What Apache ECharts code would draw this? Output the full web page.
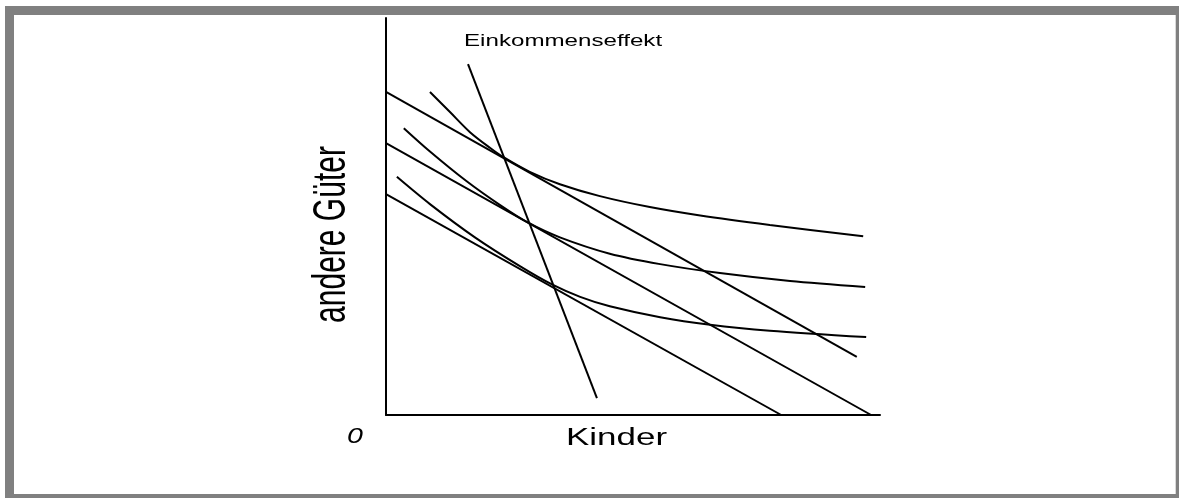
<!DOCTYPE html>
<html>
<head>
<meta charset="utf-8">
<script src="https://cdn.jsdelivr.net/npm/echarts@6/dist/echarts.min.js"></script>
<style>
    html, body { margin: 0; padding: 0; background: #fff; }
    #chart { width: 1179px; height: 498px; }
</style>
</head>
<body>
<div id="chart"></div>
<script>
// Achsenbereich
const xMax = 10
const yMax = 8

// Budgetgeraden [Kinder, andere Güter]
const budgetHigh = [[0, 6.51], [9.53, 1.17]]
const budgetMid = [[0, 5.48], [9.82, 0]]
const budgetLow = [[0, 4.45], [8.0, 0]]

// Indifferenzkurven
const indiffHigh = [
    [0.89, 6.51], [1.30, 6.10], [1.70, 5.70], [2.11, 5.38], [2.37, 5.20], [2.91, 4.90],
    [3.52, 4.65], [4.33, 4.41], [5.34, 4.19], [6.36, 4.02], [7.77, 3.83], [9.66, 3.60],
]
const indiffMid = [
    [0.36, 5.78], [0.89, 5.31], [1.62, 4.72], [2.31, 4.23], [2.87, 3.88], [3.52, 3.58],
    [4.53, 3.25], [5.55, 3.04], [6.76, 2.86], [8.18, 2.70], [9.70, 2.58],
]
const indiffLow = [
    [0.22, 4.80], [0.89, 4.25], [1.80, 3.58], [2.71, 3.00], [3.38, 2.62], [3.93, 2.38],
    [4.53, 2.19], [5.55, 1.97], [6.56, 1.82], [7.77, 1.70], [9.72, 1.57],
]

// Einkommenseffekt
const incomeEffect = [[1.66, 7.07], [4.27, 0.34]]

// Beschriftungen
const labelIncome = "Einkommenseffekt"
const labelX = "Kinder"
const labelY = "andere Güter"
const labelOrigin = "0"

const font = "'Liberation Sans', Arial, sans-serif"

function makeLine(name, data, smooth) {
    return {
        name,
        type: "line",
        data,
        smooth,
        showSymbol: false,
        silent: true,
        lineStyle: { color: "#000", width: 2 },
    }
}

const chart = echarts.init(document.getElementById("chart"), null, { renderer: "canvas" })

chart.setOption({
    animation: false,
    backgroundColor: "#fff",
    grid: { left: 386, top: 18, right: 299, bottom: 83 },
    xAxis: {
        type: "value",
        min: 0,
        max: xMax,
        axisLine: { show: true, onZero: false, lineStyle: { color: "#000", width: 2 } },
        axisTick: { show: false },
        axisLabel: { show: false },
        splitLine: { show: false },
    },
    yAxis: {
        type: "value",
        min: 0,
        max: yMax,
        axisLine: { show: true, onZero: false, lineStyle: { color: "#000", width: 2 } },
        axisTick: { show: false },
        axisLabel: { show: false },
        splitLine: { show: false },
    },
    series: [
        makeLine("Budget hoch", budgetHigh, false),
        makeLine("Budget mittel", budgetMid, false),
        makeLine("Budget niedrig", budgetLow, false),
        makeLine("Indifferenz hoch", indiffHigh, 0.3),
        makeLine("Indifferenz mittel", indiffMid, 0.3),
        makeLine("Indifferenz niedrig", indiffLow, 0.3),
        makeLine(labelIncome, incomeEffect, false),
    ],
    graphic: [
        {
            type: "rect",
            silent: true,
            shape: { x: 9.5, y: 10.5, width: 1170.7, height: 488 },
            style: { fill: "none", stroke: "#808080", lineWidth: 9 },
        },
        {
            type: "text",
            x: 464,
            y: 41,
            scaleX: 1.42,
            style: { text: labelIncome, fontSize: 17, fontFamily: font, fill: "#000", align: "left", verticalAlign: "middle" },
        },
        {
            type: "text",
            x: 566,
            y: 439,
            scaleX: 1.52,
            style: { text: labelX, fontSize: 23, fontFamily: font, fill: "#000", align: "left", verticalAlign: "middle" },
        },
        {
            type: "text",
            x: 355,
            y: 437,
            scaleX: 1.3,
            style: { text: labelOrigin, fontSize: 22, fontStyle: "italic", fontFamily: font, fill: "#000", align: "center", verticalAlign: "middle" },
        },
        {
            type: "text",
            x: 332,
            y: 234.5,
            rotation: Math.PI / 2,
            scaleY: 1.55,
            style: { text: labelY, fontSize: 30, fontFamily: font, fill: "#000", align: "center", verticalAlign: "middle" },
        },
    ],
})
</script>
</body>
</html>
